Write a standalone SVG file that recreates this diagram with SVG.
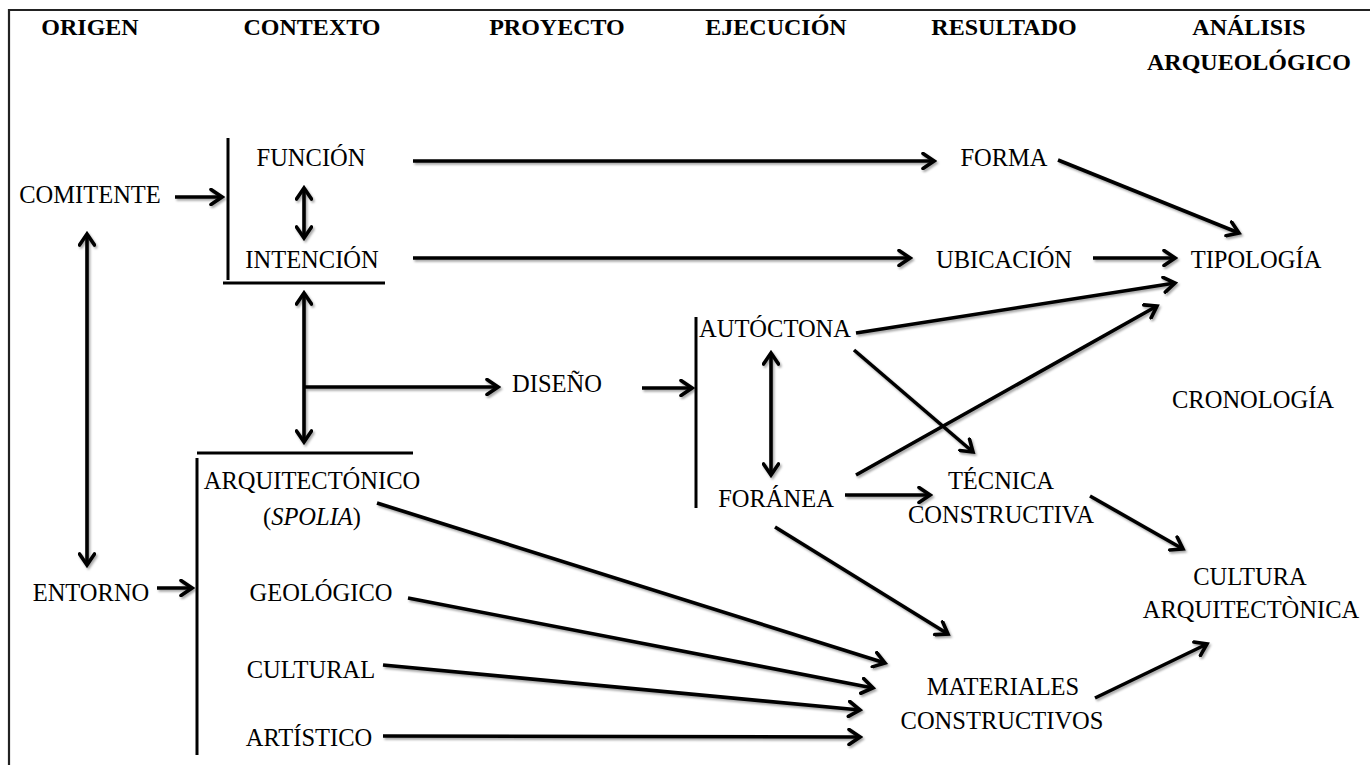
<svg xmlns="http://www.w3.org/2000/svg" width="1370" height="765" viewBox="0 0 1370 765">
<style>
text{font-family:"Liberation Serif","Times New Roman",serif;font-size:24.5px;fill:#000;text-anchor:middle}
.h{font-weight:bold;font-size:24px}
.c{stroke:#000;stroke-width:3.6;fill:none}
.b{stroke:#000;stroke-width:3;fill:none}
</style>
<defs>
<marker id="ah" viewBox="0 0 16 18" refX="13" refY="9" markerWidth="16" markerHeight="18" markerUnits="userSpaceOnUse" orient="auto-start-reverse">
<path d="M2,1.5 L13,9 L2,16.5" fill="none" stroke="#000" stroke-width="3.6" stroke-linecap="round" stroke-linejoin="miter"/>
</marker>
<filter id="sh" x="-10%" y="-10%" width="120%" height="120%">
<feDropShadow dx="1.5" dy="2" stdDeviation="1.3" flood-color="#000" flood-opacity="0.35"/>
</filter>
</defs>
<rect width="1370" height="765" fill="#fff"/>
<g id="frame">
<path d="M9,765 V10 H1370" stroke="#222" stroke-width="2.2" fill="none"/>
</g>
<g id="headers">
<text class="h" x="90" y="35">ORIGEN</text>
<text class="h" x="312" y="35">CONTEXTO</text>
<text class="h" x="557" y="35">PROYECTO</text>
<text class="h" x="776" y="35">EJECUCIÓN</text>
<text class="h" x="1004" y="35">RESULTADO</text>
<text class="h" x="1249" y="35">ANÁLISIS</text>
<text class="h" x="1249" y="70">ARQUEOLÓGICO</text>
</g>
<g id="brackets">
<path class="b" d="M228,138 V280 M223,283 H385"/>
<path class="b" d="M197,453 H413 M197,458 V755"/>
<path class="b" d="M696,317 V508"/>
</g>
<g id="comitente"><text x="90" y="203">COMITENTE</text></g>
<g id="funcion"><text x="311" y="166">FUNCIÓN</text></g>
<g id="intencion"><text x="312" y="268">INTENCIÓN</text></g>
<g id="entorno"><text x="91" y="601">ENTORNO</text></g>
<g id="arquitectonico"><text x="312" y="489">ARQUITECTÓNICO</text><text x="312" y="525">(<tspan font-style="italic">SPOLIA</tspan>)</text></g>
<g id="geologico"><text x="321" y="601">GEOLÓGICO</text></g>
<g id="cultural"><text x="311" y="678">CULTURAL</text></g>
<g id="artistico"><text x="309" y="746">ARTÍSTICO</text></g>
<g id="diseno"><text x="557" y="392">DISEÑO</text></g>
<g id="autoctona"><text x="775" y="337">AUTÓCTONA</text></g>
<g id="foranea"><text x="776" y="507">FORÁNEA</text></g>
<g id="forma"><text x="1004" y="166">FORMA</text></g>
<g id="ubicacion"><text x="1004" y="268">UBICACIÓN</text></g>
<g id="tipologia"><text x="1256" y="268">TIPOLOGÍA</text></g>
<g id="cronologia"><text x="1253" y="408">CRONOLOGÍA</text></g>
<g id="tecnica"><text x="1001" y="489">TÉCNICA</text><text x="1001" y="523">CONSTRUCTIVA</text></g>
<g id="cultura"><text x="1250" y="585">CULTURA</text><text x="1251" y="618">ARQUITECTÒNICA</text></g>
<g id="materiales"><text x="1003" y="695">MATERIALES</text><text x="1002" y="729">CONSTRUCTIVOS</text></g>
<g id="connectors" filter="url(#sh)">
<line class="c" x1="175" y1="197" x2="222" y2="197" marker-end="url(#ah)"/>
<line class="c" x1="304" y1="188" x2="304" y2="238" marker-start="url(#ah)" marker-end="url(#ah)"/>
<line class="c" x1="87" y1="234" x2="87" y2="565" marker-start="url(#ah)" marker-end="url(#ah)"/>
<line class="c" x1="157" y1="588" x2="192" y2="588" marker-end="url(#ah)"/>
<line class="c" x1="304" y1="293" x2="304" y2="442" marker-start="url(#ah)" marker-end="url(#ah)"/>
<line class="c" x1="304" y1="387" x2="498" y2="387" marker-end="url(#ah)"/>
<line class="c" x1="642" y1="388" x2="692" y2="388" marker-end="url(#ah)"/>
<line class="c" x1="413" y1="161" x2="934" y2="161" marker-end="url(#ah)"/>
<line class="c" x1="413" y1="258" x2="910" y2="258" marker-end="url(#ah)"/>
<line class="c" x1="1058" y1="160" x2="1239" y2="233" marker-end="url(#ah)"/>
<line class="c" x1="1093" y1="258" x2="1175" y2="258" marker-end="url(#ah)"/>
<line class="c" x1="771" y1="353" x2="771" y2="475" marker-start="url(#ah)" marker-end="url(#ah)"/>
<line class="c" x1="856" y1="333" x2="1175" y2="283" marker-end="url(#ah)"/>
<line class="c" x1="856" y1="475" x2="1157" y2="306" marker-end="url(#ah)"/>
<line class="c" x1="854" y1="350" x2="973" y2="452" marker-end="url(#ah)"/>
<line class="c" x1="845" y1="495" x2="930" y2="495" marker-end="url(#ah)"/>
<line class="c" x1="1090" y1="496" x2="1183" y2="549" marker-end="url(#ah)"/>
<line class="c" x1="775" y1="527" x2="948" y2="634" marker-end="url(#ah)"/>
<line class="c" x1="1095" y1="698" x2="1207" y2="644" marker-end="url(#ah)"/>
<line class="c" x1="377" y1="503" x2="885" y2="663" marker-end="url(#ah)"/>
<line class="c" x1="408" y1="598" x2="873" y2="688" marker-end="url(#ah)"/>
<line class="c" x1="383" y1="665" x2="860" y2="710" marker-end="url(#ah)"/>
<line class="c" x1="383" y1="736" x2="860" y2="737" marker-end="url(#ah)"/>
</g>
</svg>
